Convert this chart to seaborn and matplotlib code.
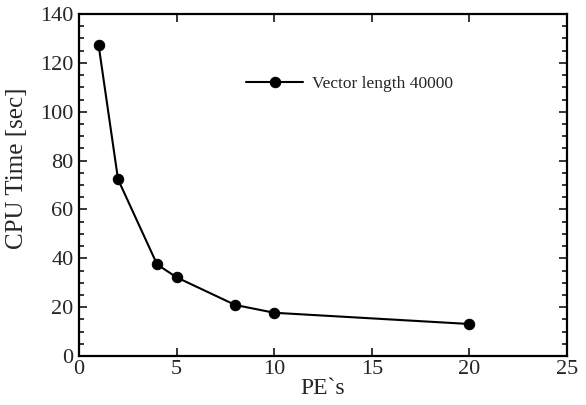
import numpy as np
import pandas as pd
import matplotlib
matplotlib.use("Agg")
import matplotlib.pyplot as plt
from matplotlib.ticker import MultipleLocator
import seaborn as sns

# CPU time vs number of PEs
pes = [1, 2, 4, 5, 8, 10, 20]
cpu_time = [127.5, 72.3, 37.5, 32.2, 20.9, 17.7, 13.1]
series_name = "Vector length 40000"

df = pd.DataFrame({"PE`s": pes, "CPU Time [sec]": cpu_time, "series": series_name})

sns.set_style("ticks")
plt.rcParams['font.family'] = ['Liberation Serif', 'DejaVu Serif']

fig = plt.figure(figsize=(5.86, 4.05), dpi=100)
ax = fig.add_axes([79/586, 1 - 356/405, 488/586, 342/405])

sns.lineplot(data=df, x="PE`s", y="CPU Time [sec]", hue="series", palette=["black"],
             marker="o", markersize=7.5, markeredgecolor="black", linewidth=1.5, ax=ax)

ax.set_xlim(0, 25)
ax.set_ylim(0, 140)
ax.xaxis.set_major_locator(MultipleLocator(5))
ax.yaxis.set_major_locator(MultipleLocator(20))
ax.yaxis.set_minor_locator(MultipleLocator(5))
ax.tick_params(which="both", direction="in", top=True, right=True, width=1.3, labelsize=16)
ax.tick_params(axis="x", pad=3)
ax.tick_params(axis="y", pad=4)
ax.tick_params(which="major", length=6)
ax.tick_params(which="minor", length=3.5)
for s in ax.spines.values():
    s.set_linewidth(1.6)
    s.set_color("black")

ax.set_xlabel("PE`s", fontsize=17, labelpad=-1)
ax.set_ylabel("CPU Time [sec]", fontsize=18)
ax.yaxis.set_label_coords(-0.105, 0.55)

leg = ax.legend(loc="center left", bbox_to_anchor=(0.342, 0.795), frameon=False,
                fontsize=12.5, handlelength=3.3, handletextpad=0.5,
                borderpad=0, borderaxespad=0)

fig.savefig("out.png", dpi=100)
